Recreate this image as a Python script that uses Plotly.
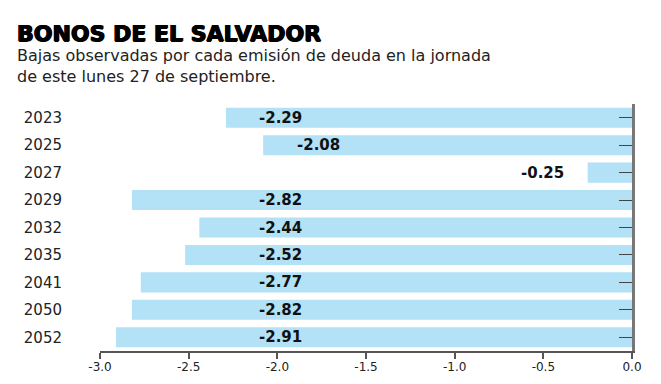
import plotly.graph_objects as go

years = ["2023", "2025", "2027", "2029", "2032", "2035", "2041", "2050", "2052"]
values = [-2.29, -2.08, -0.25, -2.82, -2.44, -2.52, -2.77, -2.82, -2.91]
labels = ["-2.29", "-2.08", "-0.25", "-2.82", "-2.44", "-2.52", "-2.77", "-2.82", "-2.91"]
tick_vals = [-3.0, -2.5, -2.0, -1.5, -1.0, -0.5, 0.0]
tick_text = ["-3.0", "-2.5", "-2.0", "-1.5", "-1.0", "-0.5", "0.0"]

BAR = "#b3e2f7"
DARK = "#111111"
AXIS = "#555555"

OFF = 8  # default page body margin
W, H = 661 - OFF, 384 - OFF
L, R, T, B = 100 - OFF, 29, 104 - OFF, 33
PW, PH = W - L - R, H - T - B


def px_x(px):
    return (px - OFF - L) / PW


def px_y(py):
    return 1 + (T - (py - OFF)) / PH


n = len(years)
yrange = [n - 0.5, -0.5]

fig = go.Figure()
fig.add_trace(go.Bar(
    y=years, x=values, orientation="h",
    marker=dict(color=BAR, line=dict(width=0)),
    hoverinfo="skip", showlegend=False,
))
fig.add_trace(go.Scatter(
    y=years, x=[0] * n, yaxis="y2", mode="markers",
    marker=dict(opacity=0), hoverinfo="skip", showlegend=False,
))

for i, (v, t) in enumerate(zip(values, labels)):
    if v < -1.0:
        fig.add_annotation(
            x=max(v + 0.31, -1.98), y=i, xref="x", yref="y",
            text="<b>" + t + "</b>", showarrow=False, xanchor="center",
            font=dict(family="DejaVu Sans", size=15, color=DARK),
        )
    else:
        fig.add_annotation(
            x=v - 0.12, y=i, xref="x", yref="y",
            text="<b>" + t + "</b>", showarrow=False, xanchor="right",
            font=dict(family="DejaVu Sans", size=15, color=DARK),
        )

fig.add_annotation(
    x=px_x(15), y=px_y(48), xref="paper", yref="paper",
    xanchor="left", yanchor="bottom", showarrow=False,
    text="<b>BONOS DE EL SALVADOR</b>",
    font=dict(family="DejaVu Sans", size=22, color="#000000",
              shadow="0.7px 0 0 #000, -0.7px 0 0 #000, 0 0.5px 0 #000"),
)
fig.add_annotation(
    x=px_x(15), y=px_y(88), xref="paper", yref="paper",
    xanchor="left", yanchor="bottom", showarrow=False, align="left",
    text="Bajas observadas por cada emisión de deuda en la jornada<br>de este lunes 27 de septiembre.",
    font=dict(family="DejaVu Sans", size=16, color="#222222"),
)

fig.update_layout(
    width=W, height=H,
    margin=dict(l=L, r=R, t=T, b=B, autoexpand=False),
    paper_bgcolor="white", plot_bgcolor="white",
    bargap=0.27,
    xaxis=dict(
        range=[-3.0, 0.0], tickvals=tick_vals, ticktext=tick_text,
        showgrid=False, zeroline=False, automargin=False,
        showline=True, linecolor=AXIS, linewidth=1.5,
        ticks="outside", ticklen=6, tickcolor=AXIS, tickwidth=1.5,
        ticklabelstandoff=-2,
        tickfont=dict(family="DejaVu Sans", size=12, color="#222222"),
        fixedrange=True,
    ),
    yaxis=dict(
        type="category", categoryorder="array", categoryarray=years,
        range=yrange, automargin=False,
        showgrid=False, zeroline=False, showline=False,
        ticks="", ticklabelstandoff=37,
        tickfont=dict(family="DejaVu Sans", size=15, color="#222222"),
        fixedrange=True,
    ),
    yaxis2=dict(
        type="category", overlaying="y", side="right",
        categoryorder="array", categoryarray=years,
        range=yrange, automargin=False,
        showgrid=False, zeroline=False,
        showline=True, linecolor="#777777", linewidth=2.5,
        ticks="inside", ticklen=13, tickcolor="#444444", tickwidth=1.2,
        showticklabels=False, fixedrange=True,
    ),
)

fig.write_html("out.html")
